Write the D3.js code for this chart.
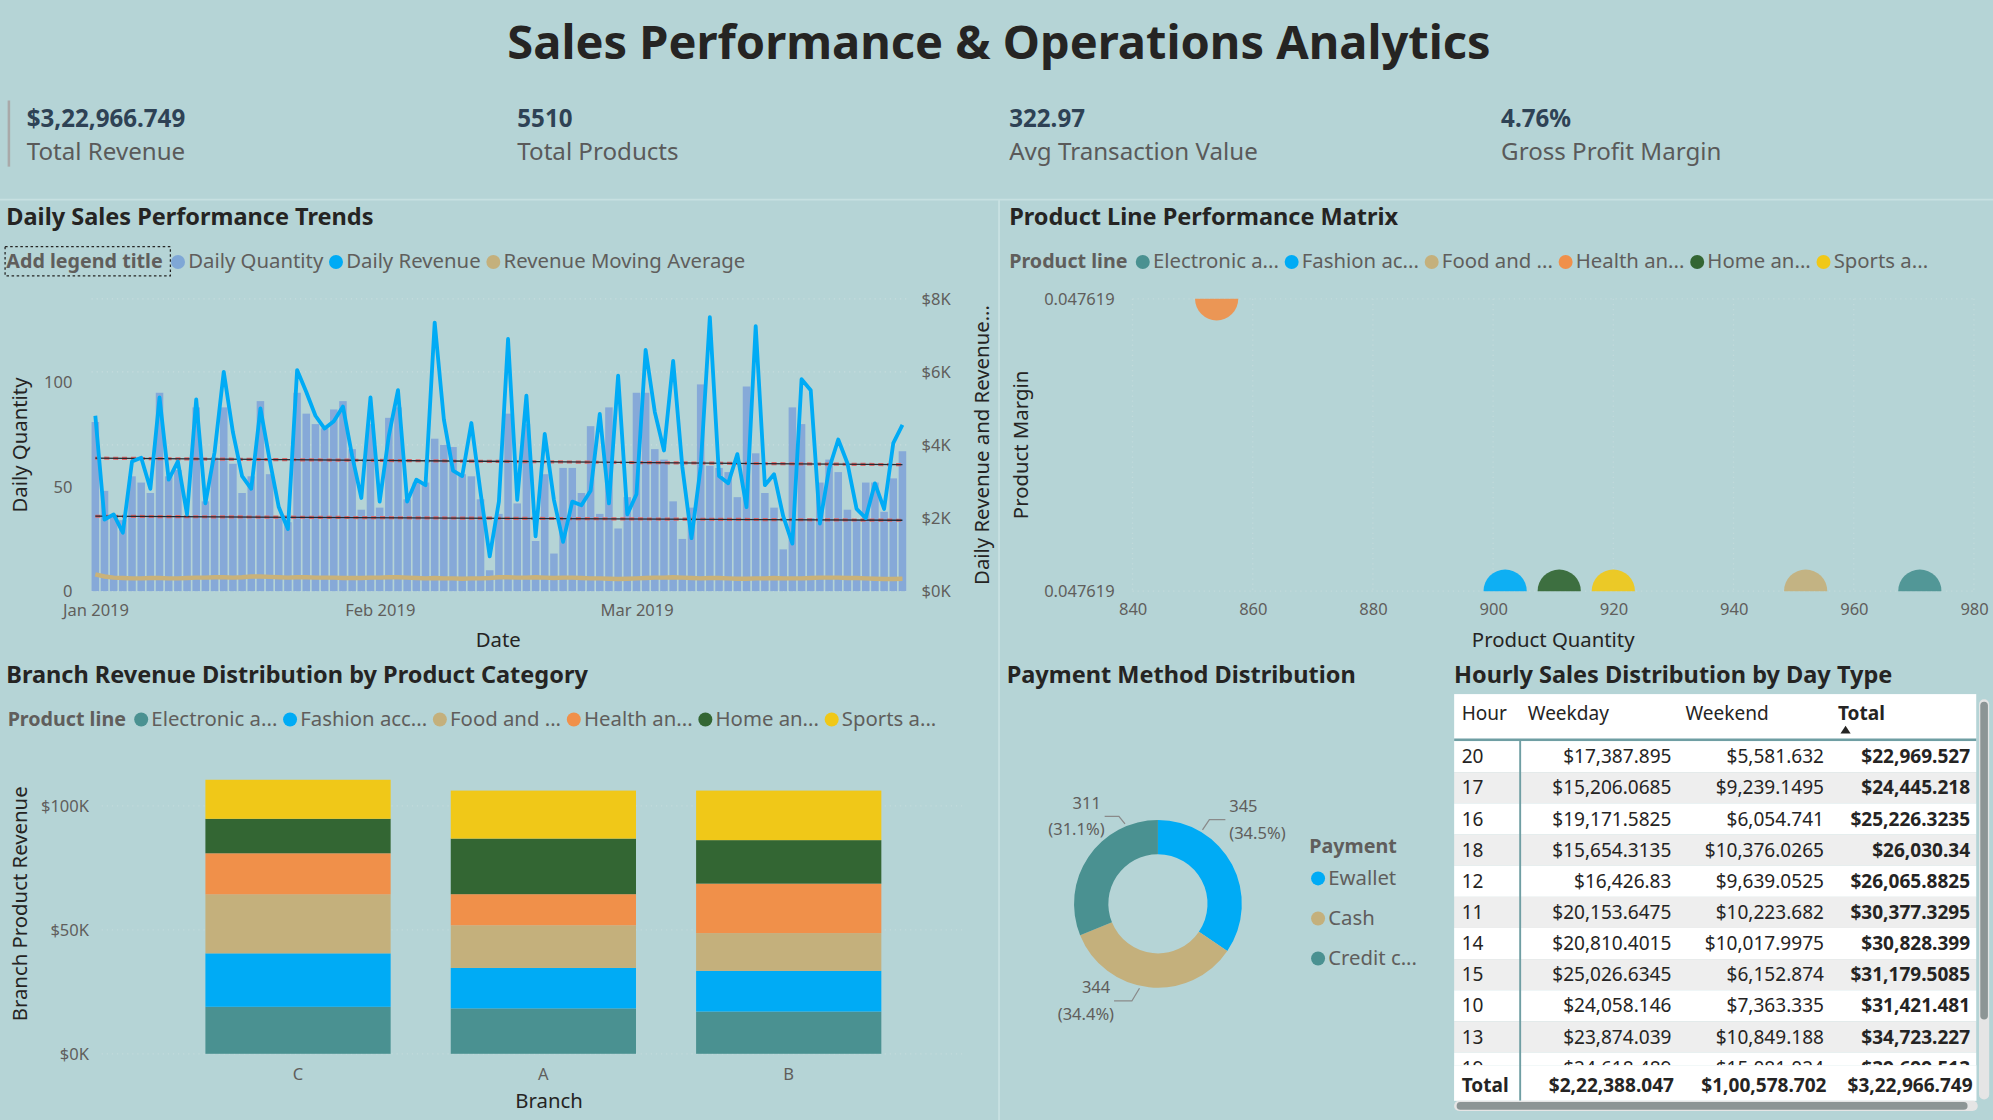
<!DOCTYPE html>
<html>
<head>
<meta charset="utf-8">
<script src="https://cdn.jsdelivr.net/npm/d3@7"></script>
<style>
  body { margin: 0; background: #b5d4d6; overflow: hidden; }
  text { font-family: "Noto Sans", "Open Sans", sans-serif; }
  .ttl { font-weight: 700; fill: #252423; }
  .tick text { fill: #605e5c; font-size: 13px; }
  .axisTitle { fill: #252423; font-size: 16px; }
</style>
</head>
<body>
<script>
/* ---------- data ---------- */
var kpiValues = ['$3,22,966.749', '5510', '322.97', '4.76%'];
var kpiLabels = ['Total Revenue', 'Total Products', 'Avg Transaction Value', 'Gross Profit Margin'];

// daily series, 1 Jan 2019 .. 30 Mar 2019
var dailyQuantity = [81,48,36,34,55,52,47,95,55,58,36,88,43,64,88,61,47,55,91,56,35,33,95,85,80,78,87,91,68,39,
  80,40,83,88,44,52,52,73,70,69,56,55,44,10,37,85,42,80,24,56,18,59,59,47,79,37,88,30,45,95,
  95,68,63,43,25,40,99,60,59,57,45,98,66,47,40,20,88,80,35,52,63,57,39,34,52,52,38,54,67];
var dailyRevenue = [4.8,1.96,2.1,1.6,3.55,3.65,2.8,5.3,3.05,3.55,2.1,5.25,2.4,3.8,6.0,4.35,3.15,2.8,5.0,3.6,2.3,1.7,6.05,5.45,4.8,4.45,4.65,5.05,3.7,2.55,
  5.3,2.45,4.25,5.5,2.45,3.05,2.9,7.35,4.7,3.3,3.15,4.6,2.7,0.95,2.45,6.9,2.5,5.35,1.5,4.3,2.5,1.35,2.45,2.35,2.75,4.85,2.4,5.9,2.1,2.65,
  6.6,4.9,3.85,6.3,3.4,1.45,3.4,7.5,3.15,2.95,3.75,2.3,7.25,2.9,3.2,2.05,1.3,5.8,5.5,1.85,3.35,4.15,3.5,2.25,2.0,2.95,2.25,4.05,4.55];
var movingAverage = [0.46,0.40,0.37,0.36,0.35,0.35,0.36,0.36,0.35,0.35,0.36,0.37,0.37,0.38,0.38,0.37,0.38,0.40,0.40,0.39,0.38,0.37,0.38,0.38,0.37,0.37,0.37,0.36,0.36,0.36,
  0.37,0.37,0.38,0.38,0.37,0.36,0.35,0.36,0.35,0.35,0.34,0.35,0.35,0.36,0.38,0.38,0.37,0.37,0.38,0.37,0.36,0.37,0.37,0.36,0.35,0.35,0.34,0.33,0.34,0.35,
  0.36,0.37,0.37,0.38,0.37,0.36,0.35,0.36,0.36,0.35,0.34,0.34,0.35,0.35,0.36,0.35,0.35,0.35,0.36,0.37,0.37,0.37,0.36,0.36,0.35,0.34,0.33,0.33,0.34];
var upperTrend = [3.64, 3.46];   // $K at first / last day
var lowerTrend = [2.05, 1.94];

var productLines = ['Electronic accessories','Fashion accessories','Food and beverages','Health and beauty','Home and lifestyle','Sports and travel'];
var productShort = ['Electronic a...','Fashion ac...','Food and ...','Health an...','Home an...','Sports a...'];
var productShort2 = ['Electronic a...','Fashion acc...','Food and ...','Health an...','Home an...','Sports a...'];
var productColors = ['#4a9191','#00abf5','#c4b07c','#f0904a','#336633','#f0c818'];
var productQuantity = [971, 902, 952, 854, 911, 920];
var productMargin = [0.0476190, 0.0476190, 0.0476190, 0.0476191, 0.0476190, 0.0476190];

var branches = ['C', 'A', 'B'];
var branchRevenue = {   // per product line, in branch order C, A, B
  'Electronic accessories': [18968, 18317, 17051],
  'Fashion accessories':    [21560, 16333, 16413],
  'Food and beverages':     [23767, 17163, 15215],
  'Health and beauty':      [16615, 12597, 19980],
  'Home and lifestyle':     [13896, 22417, 17549],
  'Sports and travel':      [15761, 19372, 19988]
};

var payments = ['Ewallet', 'Cash', 'Credit card'];
var paymentShort = ['Ewallet', 'Cash', 'Credit c...'];
var paymentCounts = [345, 344, 311];
var paymentColors = ['#00abf5', '#c4b07c', '#4a9191'];

var tableHeader = ['Hour', 'Weekday', 'Weekend', 'Total'];
var tableRows = [
  ['20','$17,387.895','$5,581.632','$22,969.527'],
  ['17','$15,206.0685','$9,239.1495','$24,445.218'],
  ['16','$19,171.5825','$6,054.741','$25,226.3235'],
  ['18','$15,654.3135','$10,376.0265','$26,030.34'],
  ['12','$16,426.83','$9,639.0525','$26,065.8825'],
  ['11','$20,153.6475','$10,223.682','$30,377.3295'],
  ['14','$20,810.4015','$10,017.9975','$30,828.399'],
  ['15','$25,026.6345','$6,152.874','$31,179.5085'],
  ['10','$24,058.146','$7,363.335','$31,421.481'],
  ['13','$23,874.039','$10,849.188','$34,723.227'],
  ['19','$24,618.489','$15,081.024','$39,699.513']
];
var tableTotal = ['Total','$2,22,388.047','$1,00,578.702','$3,22,966.749'];

/* ---------- page ---------- */
var svg = d3.select('body').append('svg')
  .attr('width', 1993).attr('height', 1120)
  .attr('viewBox', '0 0 1568 881');

svg.append('text').attr('class', 'ttl').attr('x', 786).attr('y', 46)
  .attr('text-anchor', 'middle').style('font-size', '37px')
  .text('Sales Performance & Operations Analytics');

/* KPI cards */
svg.append('line').attr('x1', 7).attr('x2', 7).attr('y1', 79).attr('y2', 131)
  .attr('stroke', '#a9a9a9').attr('stroke-width', 2);
var kpiX = [21, 407, 794, 1181];
kpiValues.forEach(function (v, i) {
  svg.append('text').attr('x', kpiX[i]).attr('y', 100).attr('fill', '#2e4255')
    .style('font-size', '19px').style('font-weight', 700).text(v);
  svg.append('text').attr('x', kpiX[i]).attr('y', 126).attr('fill', '#5a5a5a')
    .style('font-size', '19px').text(kpiLabels[i]);
});
svg.append('line').attr('x1', 0).attr('x2', 1568).attr('y1', 157).attr('y2', 157)
  .attr('stroke', '#c7e0e1').attr('stroke-width', 1.5);
svg.append('line').attr('x1', 786).attr('x2', 786).attr('y1', 157).attr('y2', 881)
  .attr('stroke', '#c7e0e1').attr('stroke-width', 1.5);

/* legend helper: lays items out left to right */
function legend(x, y, title, labels, colors, boxed) {
  var g = svg.append('g');
  var t = g.append('text').attr('x', x).attr('y', y + 5).attr('fill', '#605e5c')
    .style('font-size', '15.5px').style('font-weight', 700).text(title);
  var cx = x + t.node().getComputedTextLength() + 12;
  if (boxed) {
    g.append('rect').attr('x', x - 1).attr('y', y - 12).attr('width', cx - x - 5).attr('height', 23)
      .attr('fill', 'none').attr('stroke', '#252423').attr('stroke-dasharray', '2,2');
  }
  labels.forEach(function (l, i) {
    g.append('circle').attr('cx', cx).attr('cy', y).attr('r', 5.5).attr('fill', colors[i]);
    var tt = g.append('text').attr('x', cx + 8).attr('y', y + 5).attr('fill', '#605e5c')
      .style('font-size', '16px').text(l);
    cx += tt.node().getComputedTextLength() + 18;
  });
}

/* ---------- Daily Sales Performance Trends ---------- */
svg.append('text').attr('class', 'ttl').attr('x', 5).attr('y', 177).style('font-size', '18.5px')
  .text('Daily Sales Performance Trends');
legend(5, 206, 'Add legend title', ['Daily Quantity', 'Daily Revenue', 'Revenue Moving Average'],
  ['#7fa7d6', '#00abf5', '#c4b07c'], true);

var days = dailyRevenue.map(function (d, i) { return new Date(2019, 0, 1 + i); });
var x1 = d3.scaleTime().domain([days[0], days[days.length - 1]]).range([75, 710]);
var yQ = d3.scaleLinear().domain([0, 140]).range([465, 235]);
var yR = d3.scaleLinear().domain([0, 8]).range([465, 235]);
var bw = (x1(days[1]) - x1(days[0])) * 0.82;

var g1 = svg.append('g');
g1.selectAll('.gr').data([0, 2, 4, 6, 8]).enter().append('line')
  .attr('x1', 72).attr('x2', 713).attr('y1', yR).attr('y2', yR)
  .attr('stroke', '#c6dcdd').attr('stroke-dasharray', '1,3');
g1.selectAll('.bar').data(dailyQuantity).enter().append('rect')
  .attr('x', function (d, i) { return x1(days[i]) - bw / 2; })
  .attr('width', bw)
  .attr('y', function (d) { return yQ(d); })
  .attr('height', function (d) { return yQ(0) - yQ(d); })
  .attr('fill', '#86a9d8');
function trend(vals, col, w, dash) {
  g1.append('line').attr('x1', x1(days[0])).attr('x2', x1(days[days.length - 1]))
    .attr('y1', yR(vals[0])).attr('y2', yR(vals[1]))
    .attr('stroke', col).attr('stroke-width', w).attr('stroke-dasharray', dash);
}
trend(upperTrend, '#e06666', 2.5, '4,3'); trend(upperTrend, '#252a33', 1, null);
trend(lowerTrend, '#e06666', 2.5, '4,3'); trend(lowerTrend, '#252a33', 1, null);
g1.append('path').datum(movingAverage)
  .attr('d', d3.line().x(function (d, i) { return x1(days[i]); }).y(function (d) { return yR(d); }))
  .attr('fill', 'none').attr('stroke', '#c9b27a').attr('stroke-width', 3.5);
g1.append('path').datum(dailyRevenue)
  .attr('d', d3.line().x(function (d, i) { return x1(days[i]); }).y(function (d) { return yR(d); }))
  .attr('fill', 'none').attr('stroke', '#00abf5').attr('stroke-width', 3).attr('stroke-linejoin', 'round');

var axL = svg.append('g').attr('transform', 'translate(60,0)')
  .call(d3.axisLeft(yQ).tickValues([0, 50, 100]).tickSize(0));
var axR = svg.append('g').attr('transform', 'translate(722,0)')
  .call(d3.axisRight(yR).tickValues([0, 2, 4, 6, 8]).tickSize(0)
    .tickFormat(function (d) { return '$' + d + 'K'; }));
var axB = svg.append('g').attr('transform', 'translate(0,470)')
  .call(d3.axisBottom(x1).tickValues([new Date(2019, 0, 1), new Date(2019, 1, 1), new Date(2019, 2, 1)])
    .tickSize(0).tickFormat(d3.timeFormat('%b %Y')));
[axL, axR, axB].forEach(function (a) { a.select('.domain').remove(); });
axB.selectAll('text').attr('dy', '0.9em');
svg.append('text').attr('class', 'axisTitle').attr('transform', 'translate(21,350) rotate(-90)')
  .attr('text-anchor', 'middle').text('Daily Quantity');
svg.append('text').attr('class', 'axisTitle').attr('transform', 'translate(778,350) rotate(-90)')
  .attr('text-anchor', 'middle').text('Daily Revenue and Revenue...');
svg.append('text').attr('class', 'axisTitle').attr('x', 392).attr('y', 509)
  .attr('text-anchor', 'middle').text('Date');

/* ---------- Product Line Performance Matrix ---------- */
svg.append('text').attr('class', 'ttl').attr('x', 794).attr('y', 177).style('font-size', '18.5px')
  .text('Product Line Performance Matrix');
legend(794, 206, 'Product line', productShort, productColors, false);

var xS = d3.scaleLinear().domain([840, 980]).range([891, 1553]);
var yS = d3.scaleLinear().domain(d3.extent(productMargin)).range([465, 235]);
svg.append('clipPath').attr('id', 'clipS').append('rect')
  .attr('x', 880).attr('y', 235).attr('width', 690).attr('height', 230);
var g2 = svg.append('g');
g2.selectAll('.gx').data(xS.ticks(7)).enter().append('line')
  .attr('x1', xS).attr('x2', xS).attr('y1', 235).attr('y2', 465)
  .attr('stroke', '#c2dadb').attr('stroke-dasharray', '1,3');
g2.selectAll('.gy').data(yS.domain()).enter().append('line')
  .attr('x1', 891).attr('x2', 1553).attr('y1', yS).attr('y2', yS)
  .attr('stroke', '#c2dadb').attr('stroke-dasharray', '1,3');
g2.append('g').attr('clip-path', 'url(#clipS)').selectAll('circle').data(productQuantity).enter()
  .append('circle')
  .attr('cx', function (d) { return xS(d); })
  .attr('cy', function (d, i) { return yS(productMargin[i]); })
  .attr('r', 17)
  .attr('fill', function (d, i) { return productColors[i]; })
  .attr('opacity', 0.92);
var axSB = svg.append('g').attr('transform', 'translate(0,472)')
  .call(d3.axisBottom(xS).ticks(7).tickSize(0));
var axSL = svg.append('g').attr('transform', 'translate(880,0)')
  .call(d3.axisLeft(yS).tickValues(yS.domain()).tickSize(0).tickFormat(d3.format('.6f')));
[axSB, axSL].forEach(function (a) { a.select('.domain').remove(); });
axSB.selectAll('text').attr('dy', '0.7em');
svg.append('text').attr('class', 'axisTitle').attr('transform', 'translate(809,350) rotate(-90)')
  .attr('text-anchor', 'middle').text('Product Margin');
svg.append('text').attr('class', 'axisTitle').attr('x', 1222).attr('y', 509)
  .attr('text-anchor', 'middle').text('Product Quantity');

/* ---------- Branch Revenue Distribution ---------- */
svg.append('text').attr('class', 'ttl').attr('x', 5).attr('y', 537).style('font-size', '18.5px')
  .text('Branch Revenue Distribution by Product Category');
legend(6, 566, 'Product line', productShort2, productColors, false);

var stackData = branches.map(function (b, bi) {
  var o = { branch: b };
  productLines.forEach(function (p) { o[p] = branchRevenue[p][bi]; });
  return o;
});
var series = d3.stack().keys(productLines)(stackData);
var xB = d3.scaleBand().domain(branches).range([123, 732]).paddingInner(0.245).paddingOuter(0.2);
var yB = d3.scaleLinear().domain([0, 100000]).range([829, 634]);
var g3 = svg.append('g');
g3.selectAll('.gb').data([0, 50000, 100000]).enter().append('line')
  .attr('x1', 80).attr('x2', 760).attr('y1', yB).attr('y2', yB)
  .attr('stroke', '#c2dadb').attr('stroke-dasharray', '1,3');
g3.selectAll('.ser').data(series).enter().append('g')
  .attr('fill', function (d, i) { return productColors[i]; })
  .selectAll('rect').data(function (d) { return d; }).enter().append('rect')
  .attr('x', function (d) { return xB(d.data.branch); })
  .attr('width', xB.bandwidth())
  .attr('y', function (d) { return yB(d[1]); })
  .attr('height', function (d) { return yB(d[0]) - yB(d[1]); });
var axBL = svg.append('g').attr('transform', 'translate(73,0)')
  .call(d3.axisLeft(yB).tickValues([0, 50000, 100000]).tickSize(0)
    .tickFormat(function (d) { return '$' + d / 1000 + 'K'; }));
var axBB = svg.append('g').attr('transform', 'translate(0,836)')
  .call(d3.axisBottom(xB).tickSize(0));
[axBL, axBB].forEach(function (a) { a.select('.domain').remove(); });
axBB.selectAll('text').attr('dy', '0.8em');
svg.append('text').attr('class', 'axisTitle').attr('transform', 'translate(21,711) rotate(-90)')
  .attr('text-anchor', 'middle').text('Branch Product Revenue');
svg.append('text').attr('class', 'axisTitle').attr('x', 432).attr('y', 872)
  .attr('text-anchor', 'middle').text('Branch');

/* ---------- Payment Method Distribution ---------- */
svg.append('text').attr('class', 'ttl').attr('x', 792).attr('y', 537).style('font-size', '18.5px')
  .text('Payment Method Distribution');
var pie = d3.pie().sort(null).value(function (d) { return d; })(paymentCounts);
var arc = d3.arc().innerRadius(39).outerRadius(66);
var g4 = svg.append('g').attr('transform', 'translate(911,711)');
g4.selectAll('path').data(pie).enter().append('path')
  .attr('d', arc).attr('fill', function (d, i) { return paymentColors[i]; });
var total = d3.sum(paymentCounts);
// label layout: angle along slice where the leader starts, elbow offsets
var labelFrac = [0.25, 0.55, 0.8];
var elbowDx = [18, -20, -16];
var elbowDy = [-8, 10, -6];
pie.forEach(function (p, i) {
  var a = p.startAngle + (p.endAngle - p.startAngle) * labelFrac[i];
  var sx = 68 * Math.sin(a), sy = -68 * Math.cos(a);
  var ey = sy + elbowDy[i], ex = sx + elbowDx[i];
  var right = elbowDx[i] > 0;
  g4.append('polyline')
    .attr('points', [[sx, sy], [sx + elbowDx[i] * 0.3, ey], [ex, ey]].join(' '))
    .attr('fill', 'none').attr('stroke', '#8a8a8a');
  var tx = right ? ex + 3 : ex - 3;
  var anchor = right ? 'start' : 'end';
  g4.append('text').attr('x', tx).attr('y', ey - 6).attr('text-anchor', anchor)
    .attr('fill', '#605e5c').style('font-size', '13px').text(p.data);
  g4.append('text').attr('x', tx + (right ? 0 : 3)).attr('y', ey + 15).attr('text-anchor', anchor)
    .attr('fill', '#605e5c').style('font-size', '13px')
    .text('(' + d3.format('.1%')(p.data / total) + ')');
});
svg.append('text').attr('x', 1030).attr('y', 671).attr('fill', '#605e5c')
  .style('font-size', '15.5px').style('font-weight', 700).text('Payment');
paymentShort.forEach(function (p, i) {
  var yy = 691 + i * 31.5;
  svg.append('circle').attr('cx', 1037).attr('cy', yy).attr('r', 5.5).attr('fill', paymentColors[i]);
  svg.append('text').attr('x', 1045).attr('y', yy + 5).attr('fill', '#605e5c')
    .style('font-size', '16px').text(p);
});

/* ---------- Hourly Sales table ---------- */
svg.append('text').attr('class', 'ttl').attr('x', 1144).attr('y', 537).style('font-size', '18.5px')
  .text('Hourly Sales Distribution by Day Type');
var tb = svg.append('g');
svg.append('clipPath').attr('id', 'clipT').append('rect')
  .attr('x', 1144).attr('y', 546).attr('width', 411).attr('height', 292);
var colEdges = [1144, 1196, 1320, 1440, 1555];
var rowH = 24.5, rowTop = 583;
var tbc = tb.append('g').attr('clip-path', 'url(#clipT)');
tbc.append('rect').attr('x', 1144).attr('y', 546).attr('width', 411).attr('height', 37).attr('fill', '#fff');
tbc.append('line').attr('x1', 1144).attr('x2', 1555).attr('y1', 582).attr('y2', 582)
  .attr('stroke', '#6f9ea3').attr('stroke-width', 2);
tableHeader.forEach(function (h, i) {
  tbc.append('text').attr('x', colEdges[i] + 6).attr('y', 566).attr('fill', '#252423')
    .style('font-size', '15px').style('font-weight', i === 3 ? 700 : 400).text(h);
});
tbc.append('path').attr('d', 'M1448,577 l4,-6 l4,6 z').attr('fill', '#252423');
tableRows.forEach(function (r, ri) {
  var y0 = rowTop + ri * rowH;
  tbc.append('rect').attr('x', 1144).attr('y', y0).attr('width', 411).attr('height', rowH)
    .attr('fill', ri % 2 ? '#eeeeee' : '#ffffff');
  r.forEach(function (c, ci) {
    tbc.append('text')
      .attr('x', ci === 0 ? colEdges[0] + 6 : colEdges[ci + 1] - 5)
      .attr('y', y0 + 17.5).attr('text-anchor', ci === 0 ? 'start' : 'end')
      .attr('fill', '#252423').style('font-size', '15px')
      .style('font-weight', ci === 3 ? 700 : 400).text(c);
  });
});
tb.append('rect').attr('x', 1144).attr('y', 838).attr('width', 411).attr('height', 28).attr('fill', '#fff');
tableTotal.forEach(function (c, ci) {
  tb.append('text').attr('x', ci === 0 ? colEdges[0] + 6 : colEdges[ci + 1] - 3)
    .attr('y', 859).attr('text-anchor', ci === 0 ? 'start' : 'end')
    .attr('fill', '#252423').style('font-size', '15px').style('font-weight', 700).text(c);
});
tb.append('line').attr('x1', 1196).attr('x2', 1196).attr('y1', 583).attr('y2', 866)
  .attr('stroke', '#6f9ea3').attr('stroke-width', 1.5);
tb.append('rect').attr('x', 1557).attr('y', 550).attr('width', 8).attr('height', 315).attr('rx', 4)
  .attr('fill', '#e5e5e5');
tb.append('rect').attr('x', 1558).attr('y', 552).attr('width', 6).attr('height', 250).attr('rx', 3)
  .attr('fill', '#8c9595');
tb.append('rect').attr('x', 1144).attr('y', 866).attr('width', 412).attr('height', 8).attr('rx', 4)
  .attr('fill', '#e5e5e5');
tb.append('rect').attr('x', 1146).attr('y', 867).attr('width', 402).attr('height', 6).attr('rx', 3)
  .attr('fill', '#8c9595');
</script>
</body>
</html>
